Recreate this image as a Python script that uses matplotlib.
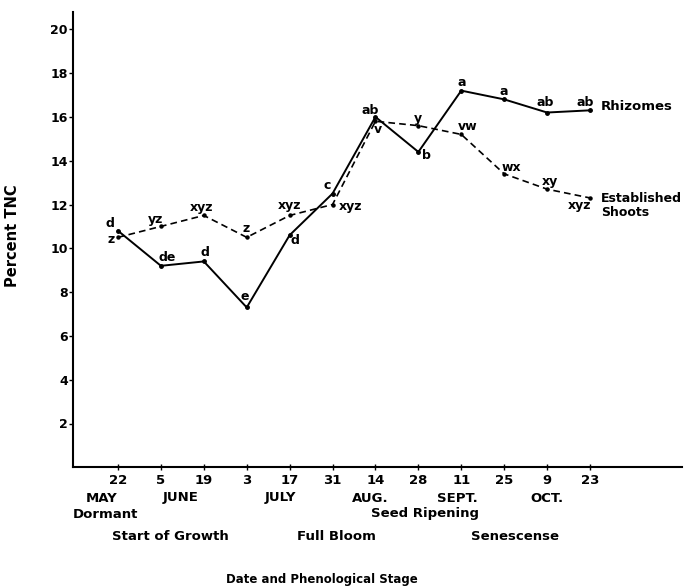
import matplotlib
matplotlib.use("Agg")
import matplotlib.pyplot as plt

plt.rcParams['font.family'] = ['DejaVu Sans']
plt.rcParams['font.weight'] = 'bold'

# ---- data ----
dates = ["22", "5", "19", "3", "17", "31", "14", "28", "11", "25", "9", "23"]
rhizomes = [10.8, 9.2, 9.4, 7.3, 10.6, 12.5, 16.0, 14.4, 17.2, 16.8, 16.2, 16.3]
shoots = [10.5, 11.0, 11.5, 10.5, 11.5, 12.0, 15.8, 15.6, 15.2, 13.4, 12.7, 12.3]
rhiz_letters = ["d", "de", "d", "e", "d", "c", "ab", "b", "a", "a", "ab", "ab"]
shoot_letters = ["z", "yz", "xyz", "z", "xyz", "xyz", "v", "y", "vw", "wx", "xy", "xyz"]
months = ["MAY", "JUNE", "JULY", "AUG.", "SEPT.", "OCT."]
month_pos = [-0.38, 1.45, 3.78, 5.87, 7.9, 10.0]
stages = ["Dormant", "Start of Growth", "Full Bloom", "Seed Ripening", "Senescense"]
stage_pos = [-0.3, 1.21, 5.1, 7.16, 9.25]
stage_row = [1, 2, 2, 1, 2]
yticks = [2, 4, 6, 8, 10, 12, 14, 16, 18, 20]

# label offsets (pixels, dx right, dy up)
rhiz_off = [(-7.6, 7.4), (6, 8), (1, 9), (-1.7, 10.6), (5, -5.7), (-5.7, 7.6),
            (-5, 6.7), (8.3, -4), (0, 8.3), (0, 7.7), (-1.6, 10), (-5, 8)]
shoot_off = [(-7.3, -2.3), (-5, 7.4), (-2, 8.3), (-1, 8.4), (0, 10), (17.6, -2.4),
             (2.3, -8.4), (0, 7.4), (6, 7.6), (6.7, 6.6), (2.7, 8), (-10, -7.7)]

W, H = 684, 588
fig = plt.figure(figsize=(W / 100, H / 100), dpi=100)
ax_l, ax_r, ax_t, ax_b = 73.3, 682, 12, 467.3
ax = fig.add_axes([ax_l / W, 1 - ax_b / H, (ax_r - ax_l) / W, (ax_b - ax_t) / H])

x = list(range(len(dates)))
ax.plot(x, rhizomes, color='black', lw=1.4, marker='o', ms=2.5)
ax.plot(x, shoots, color='black', lw=1.2, ls=(0, (4, 2.5)), marker='o', ms=2.2)

px2pt = 0.72
fs_lab = 9
for xi, yi, lab, (dx, dy) in zip(x, rhizomes, rhiz_letters, rhiz_off):
    ax.annotate(lab, (xi, yi), xytext=(dx * px2pt, dy * px2pt), textcoords='offset points',
                ha='center', va='center', fontsize=fs_lab, fontweight='bold')
for xi, yi, lab, (dx, dy) in zip(x, shoots, shoot_letters, shoot_off):
    ax.annotate(lab, (xi, yi), xytext=(dx * px2pt, dy * px2pt), textcoords='offset points',
                ha='center', va='center', fontsize=fs_lab, fontweight='bold')

ax.annotate("Rhizomes", (x[-1], rhizomes[-1]), xytext=(11 * px2pt, 3.5 * px2pt),
            textcoords='offset points', ha='left', va='center', fontsize=9.5, fontweight='bold')
ax.annotate("Established\nShoots", (x[-1], shoots[-1]), xytext=(11 * px2pt, -7.5 * px2pt),
            textcoords='offset points', ha='left', va='center', fontsize=9,
            fontweight='bold', linespacing=1.1)

x_step = (590 - 118) / 11
ax.set_xlim((ax_l - 118) / x_step, (ax_r - 118) / x_step)
ax.set_ylim(0, (ax_b - ax_t) / 21.9)
ax.set_xticks(x)
ax.set_xticklabels(dates, fontsize=9.5, fontweight='bold')
ax.set_yticks(yticks)
ax.set_yticklabels([f"{v}" for v in yticks], fontsize=9, fontweight='bold')
ax.tick_params(axis='x', direction='inout', length=5, width=1, pad=2)
ax.tick_params(axis='y', direction='out', length=3, width=1, pad=1)
for s in ['top', 'right']:
    ax.spines[s].set_visible(False)
for s in ['left', 'bottom']:
    ax.spines[s].set_linewidth(1.5)

trans = ax.get_xaxis_transform()
def yfrac(py):
    return (ax_b - py) / (ax_b - ax_t)

for m, p in zip(months, month_pos):
    ax.text(p, yfrac(498), m, transform=trans, ha='center', va='center',
            fontsize=9.5, fontweight='bold')
row_y = {1: 514, 2: 537}
for s, p, r in zip(stages, stage_pos, stage_row):
    ax.text(p, yfrac(row_y[r]), s, transform=trans, ha='center', va='center',
            fontsize=9.5, fontweight='bold')

fig.text(322 / W, 1 - 580 / H, "Date and Phenological Stage", ha='center', va='center',
         fontsize=8.5, fontweight='bold')
fig.text(13 / W, 1 - 236 / H, "Percent TNC", rotation=90, ha='center', va='center',
         fontsize=10.5, fontweight='bold')

fig.savefig("out.png", dpi=100)
